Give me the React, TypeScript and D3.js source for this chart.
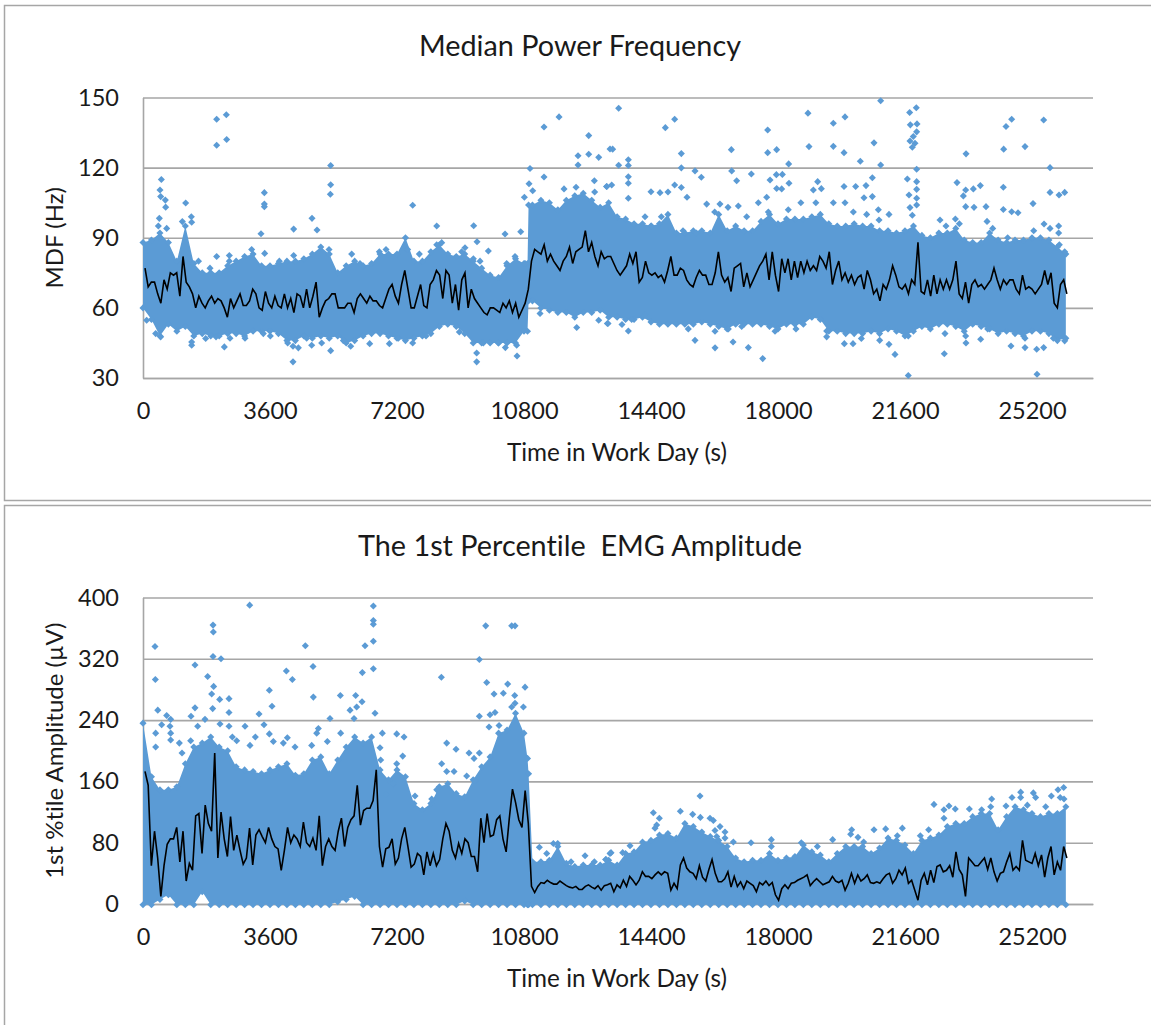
import React from "react";
import * as d3 from "d3";

const xTicks = [0, 3600, 7200, 10800, 14400, 18000, 21600, 25200];
const mdfTicks = [30, 60, 90, 120, 150];
const ampTicks = [0, 80, 160, 240, 320, 400];

// times of the envelope columns below (seconds), the two short ones are the step at ~3h
const bandTimes = [...d3.range(0, 10801, 240), 10900, 10930, ...d3.range(11040, 26161, 240)];

const mdfUpper = [
  88, 89, 92, 88, 80, 95, 79, 75, 75, 75, 78, 80, 82, 83, 78, 78, 79, 80, 80, 81, 83, 86, 83, 75,
  78, 80, 78, 79, 83, 83, 83, 90, 80, 80, 84, 87, 83, 82, 83, 80, 77, 74, 73, 78, 81, 79, 79, 104,
  104, 106, 105, 102, 106, 108, 109, 106, 103, 105,
  99, 98, 96, 96, 95, 96, 100, 92, 92, 93, 93, 92, 100, 93, 95, 93, 93, 97, 100, 96, 98, 98, 98, 99,
  100, 96, 95, 95, 96, 95, 95, 93, 93, 92, 93, 95, 91, 90, 92, 92, 94, 89, 88, 88, 92, 89, 88, 89,
  89, 90, 90, 89, 86, 83,
];
const mdfLower = [
  60, 55, 48, 53, 50, 52, 48, 49, 48, 48, 49, 49, 48, 50, 50, 50, 49, 46, 46, 48, 47, 48, 47, 48,
  45, 46, 48, 49, 49, 48, 47, 46, 47, 48, 49, 52, 53, 52, 49, 45, 45, 45, 45, 45, 45, 50, 50, 63,
  63, 60, 59, 58, 58, 56, 58, 58, 59, 56,
  56, 55, 55, 56, 54, 53, 53, 53, 53, 53, 54, 53, 52, 51, 53, 53, 53, 53, 52, 51, 53, 53, 53, 56,
  55, 50, 50, 49, 49, 49, 50, 49, 51, 50, 48, 50, 52, 51, 53, 53, 52, 50, 53, 52, 51, 49, 50, 49,
  48, 50, 50, 49, 46, 47,
];
const ampUpper = [
  236, 166, 149, 149, 153, 183, 205, 210, 218, 205, 200, 179, 175, 173, 170, 175, 179, 183, 168, 170,
  188, 192, 170, 188, 205, 218, 210, 218, 175, 162, 175, 166, 131, 123, 131, 153, 157, 144, 140, 162,
  179, 192, 223, 227, 249, 223, 190, 170,
  55, 55, 57, 75, 53, 49, 51, 51, 51, 57,
  51, 66, 68, 81, 83, 90, 92, 86, 105, 101, 94, 88, 83, 75, 60, 55, 57, 57, 66, 57, 60, 62, 77, 68,
  64, 55, 66, 75, 75, 75, 66, 73, 86, 83, 77, 66, 83, 86, 90, 101, 105, 105, 114, 118, 118, 97, 114,
  127, 123, 118, 114, 118, 118, 127,
];
const ampLower = [
  -1, -1, 6, 12, -1, -1, -1, 16, -1, -1, -1, -1, -1, -1, -1, -1, -1, -1, -1, -1, -1, -1, -1, 3,
  6, 10, -1, -1, -1, -1, -1, -1, -1, -1, -1, -1, -1, -1, 4, -1, -1, -1, -1, -1, -1, -1, -1, -1,
  -1, -1, -1, -1, -1, -1, -1, -1, -1, -1,
  -1, -1, -1, -1, -1, -1, -1, -1, -1, -1, -1, -1, -1, -1, -1, -1, -1, -1, -1, -1, -1, -1, -1, -1,
  -1, -1, -1, -1, -1, -1, -1, -1, -1, -1, -1, -1, -1, -1, -1, -1, -1, -1, -1, -1, -1, -1, -1, -1,
  -1, -1, -1, -1, -1, -1,
];

// moving average, one reading about every 90 s
const lineStart = 57;
const lineStep = 89.8;
const mdfLine = [
  77, 69, 71, 71, 66, 62, 72, 68, 75, 74, 75, 65, 82, 71, 69, 66, 60, 65, 62, 60,
  63, 65, 62, 64, 63, 60, 56, 64, 60, 63, 66, 61, 61, 63, 68, 66, 60, 59, 67, 62,
  60, 65, 61, 60, 66, 60, 64, 58, 66, 65, 60, 68, 60, 65, 71, 56, 60, 63, 64, 66,
  66, 60, 60, 60, 62, 62, 58, 64, 66, 64, 62, 65, 63, 63, 61, 60, 64, 68, 70, 65,
  62, 70, 76, 68, 60, 60, 65, 70, 61, 60, 70, 72, 76, 74, 64, 76, 74, 62, 70, 59,
  72, 75, 60, 68, 64, 62, 60, 58, 57, 60, 60, 59, 58, 62, 60, 63, 58, 62, 56, 59,
  62, 68, 80, 85, 84, 83, 87, 80, 83, 80, 78, 76, 80, 82, 86, 79, 84, 85, 86, 93,
  84, 88, 82, 78, 84, 81, 82,
  82, 79, 76, 74, 76, 78, 83, 79, 84, 71, 73, 80, 75, 74, 75, 73, 74, 71, 76, 82,
  74, 74, 77, 76, 72, 70, 69, 73, 76, 74, 74, 70, 70, 75, 84, 74, 71, 73, 67, 77,
  78, 79, 69, 75, 69, 72, 75, 78, 80, 83, 72, 84, 74, 67, 81, 75, 81, 72, 80, 73,
  80, 75, 80, 76, 78, 76, 82, 80, 77, 84, 70, 76, 80, 72, 75, 71, 74, 70, 73, 74,
  68, 76, 72, 66, 68, 63, 70, 68, 72, 78, 74, 69, 68, 70, 66, 72, 70, 88, 67, 66,
  72, 65, 74, 66, 72, 68, 72, 68, 72, 80, 66, 64, 71, 62, 70, 72, 69, 70, 68, 70,
  72, 77, 72, 68, 72, 70, 72, 72, 68, 66, 74, 68, 69, 68, 66, 68, 70, 76, 70, 75,
  62, 60, 70, 72, 66,
];
const ampLine = [
  173, 155, 50, 95, 60, 10, 50, 78, 85, 85, 100, 55, 95, 30, 53, 44, 115, 118, 66, 129,
  105, 95, 197, 60, 120, 85, 62, 114, 70, 90, 70, 52, 60, 99, 51, 90, 97, 88, 80, 100,
  85, 75, 72, 44, 70, 100, 80, 90, 85, 75, 107, 80, 75, 86, 70, 115, 50, 75, 85, 75,
  70, 95, 112, 75, 100, 110, 115, 155, 103, 122, 125, 125, 135, 175, 75, 48, 72, 74, 85, 52,
  60, 85, 100, 75, 48, 52, 66, 62, 38, 68, 50, 66, 50, 58, 85, 105, 95, 70, 60, 79,
  66, 85, 80, 62, 62, 42, 112, 80, 118, 88, 90, 110, 115, 85, 68, 112, 150, 132, 110, 100,
  148, 105, 23, 15, 23, 28, 27, 31, 28, 26, 26, 30, 27, 24, 22, 21, 23, 19, 19, 23,
  25, 22, 20, 24, 18, 24, 25,
  27, 16, 25, 21, 31, 23, 36, 31, 25, 31, 42, 36, 36, 33, 38, 42, 38, 42, 40, 18,
  27, 20, 51, 60, 47, 42, 40, 33, 50, 35, 30, 45, 58, 40, 29, 29, 33, 42, 22, 36,
  23, 29, 20, 30, 27, 24, 16, 28, 25, 30, 24, 28, 12, 5, 20, 25, 20, 27, 28, 31,
  33, 35, 38, 24, 29, 33, 29, 25, 27, 29, 36, 30, 28, 31, 18, 27, 40, 27, 38, 30,
  33, 38, 28, 27, 29, 27, 33, 38, 40, 27, 33, 44, 38, 47, 27, 31, 18, 5, 31, 40,
  25, 44, 28, 49, 51, 42, 44, 50, 35, 68, 45, 38, 10, 60, 55, 50, 50, 55, 60, 45,
  60, 42, 30, 40, 42, 55, 66, 44, 49, 44, 83, 57, 55, 53, 66, 50, 64, 35, 60, 75,
  38, 55, 44, 75, 60,
];

// [seconds, value] of the separate points around the dense band
const mdfPoints: [number, number][] = [
  [2088, 140.7], [2362, 142.6], [2088, 129.6], [2372, 132], [520, 114.9], [482, 110.4], [501, 107.6], [633, 106.1],
  [643, 103.1], [463, 98.3], [435, 95], [671, 94], [1210, 104.9], [1370, 99], [1380, 96.6], [1115, 96.9],
  [3440, 109.3], [3440, 104.4], [3440, 103.3], [3345, 91.7], [4791, 98.3], [4271, 93.7], [5320, 120.9], [5320, 112.7],
  [5311, 108.6], [4933, 93.3], [7645, 103.9], [8326, 95], [9374, 95.1], [9469, 88.3], [10263, 91.6], [10707, 92.6],
  [9790, 84.3], [2088, 82], [2447, 82.4], [3449, 83.3], [4271, 82.4], [3080, 85], [8467, 87.9], [9128, 85.7],
  [10971, 119.6], [10943, 113.1], [11047, 110.1], [10811, 107.3], [11368, 137.4], [11794, 141.7], [11368, 116], [11935, 110.9],
  [12276, 111.6], [12635, 133.7], [12635, 125.7], [12918, 124.4], [12332, 125.1], [12332, 121.1], [12795, 114.4], [12804, 109.6],
  [13145, 111.9], [13239, 128], [4252, 36.9], [4252, 43.6], [4404, 42.9], [4782, 44], [5320, 41.7], [9459, 36.9],
  [9459, 40.7], [10603, 39.4], [10272, 43], [2306, 43.3], [1380, 44], [11255, 57.6], [12295, 51.6], [12918, 54.7],
  [13164, 53.3], [104, 54.7], [359, 49], [501, 47.6], [1777, 46.9], [2070, 47.6], [5888, 43.6], [6426, 44.7],
  [6984, 44.7], [7645, 45], [8968, 49.7], [3610, 48],
  [13484, 145.4], [13314, 127.9], [13484, 121], [13758, 123.4], [13758, 120.9], [13758, 116.1], [13758, 113.3], [13758, 106.9],
  [13144, 111.9], [13286, 112.6], [14807, 137.1], [15071, 140.7], [15260, 126], [15260, 119.9], [15648, 118.6], [15827, 115.9],
  [15071, 112.6], [15260, 111.5], [14400, 109.7], [14656, 109.3], [14882, 109.6], [15421, 107.3], [15979, 104.4], [16355, 104.4],
  [16678, 127.7], [16688, 118.6], [16829, 114.4], [17245, 117.3], [17708, 136.1], [17708, 126.4], [17963, 127.7], [18303, 121.6],
  [17954, 117], [18124, 117.1], [17775, 114.7], [18312, 113.3], [17963, 111.1], [18105, 110.9], [17680, 107.3], [18850, 143.3],
  [18879, 129], [19569, 139], [19900, 141.7], [19569, 129.1], [19872, 126.4], [20334, 122.7], [19125, 114], [19003, 110.4],
  [19229, 111], [19872, 111.9], [20202, 111.9], [20495, 112.3], [20675, 115.7], [20722, 130.6], [20911, 148.6], [20911, 121.1],
  [20438, 107.1], [20675, 107.6], [21733, 143.6], [21921, 145.6], [21752, 138.3], [21941, 138.7], [21931, 135.3], [21836, 133.3],
  [21742, 131.4], [21884, 130.4], [21808, 128.7], [21931, 119.3], [21667, 115.1], [21931, 114], [21931, 110.7], [21714, 108.3],
  [21931, 106.9], [21931, 104], [21742, 102.9], [21808, 99.6], [23331, 125.9], [23075, 113.6], [23321, 110.4], [23538, 110.9],
  [23736, 112.3], [23255, 107.9], [23321, 103.3], [23557, 103], [23897, 103.3], [24398, 127.9], [24625, 140.7], [24464, 137.6],
  [25003, 129], [24388, 111.6], [24388, 102.1], [24625, 101.1], [24804, 100.7], [25532, 140.4], [25712, 120], [25712, 109.4],
  [25967, 108.3], [26127, 109.4], [25230, 104.6], [25542, 95.9],
  [13182, 53.3], [13578, 52.9], [13758, 50.1], [15648, 46.1], [16216, 42.9], [16726, 45.4], [17160, 43], [17567, 38.3],
  [19380, 50.1], [19380, 47.6], [19881, 44.7], [20127, 44.7], [20363, 46.9], [20883, 46.1], [21147, 44.4], [21317, 40.1],
  [21694, 31.1], [22715, 40.4], [23329, 45], [23746, 46.6], [24605, 43.7], [25003, 43], [25334, 42.3], [25532, 43],
  [25343, 31.6], [26127, 45.9],
  [1899, 77], [1573, 80], [2447, 80], [3865, 80], [5273, 85], [5916, 83], [6152, 79], [6700, 84],
  [6889, 85], [7503, 85], [7834, 83], [8326, 87], [9033, 84], [9365, 81], [9554, 80], [10310, 79],
  [10546, 82], [10830, 79], [1380, 45.4], [2466, 47], [2892, 47], [3411, 49], [4101, 45], [4640, 47],
  [5065, 45], [5679, 46], [7239, 47], [8023, 48], [9648, 45], [10073, 45], [10593, 44],
  [14231, 99], [14410, 95], [14694, 99], [15308, 93], [15686, 92], [16206, 101], [16584, 103], [16876, 103.6],
  [17113, 99], [17443, 105], [17727, 101], [18292, 102], [18648, 105], [19074, 105], [19569, 105], [19900, 105],
  [20136, 101], [20514, 100], [20845, 102], [21147, 100], [20864, 97.6], [22593, 97.6], [22763, 95], [23029, 98],
  [23142, 96], [23926, 97], [24087, 94], [24511, 90], [25249, 93], [25712, 94], [25957, 95], [25957, 92],
  [25976, 87], [26127, 84], [13853, 55], [14231, 57], [15458, 51], [16215, 50], [16593, 51], [16971, 52],
  [17916, 50], [18510, 51], [21694, 48], [22734, 49], [23321, 48], [23944, 51], [25003, 47], [25806, 47],
];
const ampPoints: [number, number][] = [
  [3024, 390], [6530, 389], [6530, 370], [6530, 365], [6530, 343], [6294, 337], [9715, 363], [10452, 363],
  [10546, 363], [1985, 364], [1994, 355], [340, 336], [350, 293], [4602, 337], [1985, 323], [2211, 320],
  [1474, 312], [9535, 319], [4063, 304], [4820, 310], [4234, 293], [6218, 302], [6530, 307], [8458, 296],
  [9743, 289], [10338, 287], [10830, 283], [1833, 297], [2003, 284], [1947, 274], [2174, 267], [2438, 268],
  [3582, 279], [3657, 258], [4829, 270], [5594, 272], [6029, 272], [6209, 264], [6057, 257], [9951, 274],
  [10215, 275], [10537, 272], [419, 253], [671, 246], [784, 241], [1474, 256], [1361, 245], [1757, 241],
  [1975, 255], [2438, 250], [3289, 248], [5869, 253], [5982, 242], [6577, 249], [9535, 245], [9837, 247],
  [9979, 250], [10452, 257], [10783, 257], [10546, 262], [529, 234], [765, 232], [1550, 232], [2183, 235],
  [2438, 232], [2892, 232], [3430, 234], [5301, 242], [9809, 231], [10093, 233], [784, 223], [784, 214],
  [359, 223], [359, 205], [1030, 210], [1106, 197], [1351, 213], [2533, 218], [2656, 213], [3185, 218],
  [3582, 222], [3695, 212], [3033, 207], [4092, 217], [3978, 210], [4309, 205], [4971, 229], [4924, 223],
  [4782, 207], [5226, 212], [5603, 223], [6785, 223], [7192, 222], [7400, 218], [6719, 204], [8609, 210],
  [8874, 202], [9242, 197], [9384, 190], [9535, 197], [8467, 183], [8609, 173], [8817, 173], [9176, 167],
  [9412, 161], [8184, 137], [8326, 149], [7711, 141], [7362, 193], [7192, 183], [6738, 188], [6889, 143],
  [7097, 157], [11236, 74], [11444, 66], [11633, 79], [11756, 79], [12134, 55], [12531, 63], [12795, 55],
  [13116, 58], [13239, 66],
  [13267, 67], [13125, 58], [13598, 67], [13806, 76], [14467, 119], [14637, 112], [14561, 103], [14514, 99],
  [15232, 121], [15582, 117], [15790, 141], [15800, 113], [16073, 112], [16168, 109], [16357, 101], [16498, 94],
  [16215, 96], [16263, 88], [16498, 86], [16735, 81], [17236, 80], [17812, 84], [17812, 75], [18662, 80],
  [19116, 75], [19550, 84], [20089, 97], [20060, 91], [20268, 87], [20429, 81], [20722, 97], [21053, 98],
  [21525, 99], [21383, 89], [22035, 89], [22271, 97], [22422, 130], [22705, 123], [22847, 128], [23026, 124],
  [22705, 112], [23425, 124], [23774, 123], [24058, 137], [24030, 127], [24464, 128], [24634, 139], [24880, 146],
  [24880, 139], [25239, 145], [25305, 139], [25749, 141], [25938, 149], [26099, 152], [26000, 139], [26108, 137],
  [25069, 129], [25589, 127],
];

const BLUE = "#5b9bd5";
const GRID = "#a6a6a6";
const FONT = "Lato, 'Open Sans', sans-serif";

type PanelProps = {
  top: number;
  bottom: number;
  title: string;
  yLabel: string;
  yTicks: number[];
  upper: number[];
  lower: number[];
  line: number[];
  points: [number, number][];
};

const xScale = d3.scaleLinear().domain([0, 26930]).range([143, 1093]);

const Panel = ({ top, bottom, title, yLabel, yTicks, upper, lower, line, points }: PanelProps) => {
  const ref = React.useRef<SVGGElement>(null);

  React.useEffect(() => {
    const g = d3.select(ref.current);
    g.selectAll("*").remove();

    const y = d3.scaleLinear().domain(d3.extent(yTicks) as [number, number]).range([bottom, top]);

    const yAxis = d3.axisLeft(y).tickValues(yTicks).tickSize(-(1093 - 143)).tickSizeOuter(0).tickPadding(24);
    const ya = g.append("g").attr("transform", "translate(143,0)").call(yAxis as any);
    ya.selectAll("line").attr("stroke", GRID).attr("stroke-width", 1.6);
    ya.select(".domain").attr("stroke", GRID).attr("stroke-width", 1.6);

    const xAxis = d3.axisBottom(xScale).tickValues(xTicks).tickFormat(d3.format("d") as any).tickSize(0).tickPadding(24);
    const xa = g.append("g").attr("transform", `translate(0,${bottom})`).call(xAxis as any);
    xa.select(".domain").attr("stroke", GRID).attr("stroke-width", 1.6);

    g.selectAll(".tick text").attr("font-family", FONT).attr("font-size", 23.5).attr("fill", "#1a1a1a");

    const band = d3.area<number>()
      .x(d => xScale(d))
      .y0((_, i) => y(lower[i]))
      .y1((_, i) => y(upper[i]));
    g.append("path").attr("d", band(bandTimes)).attr("fill", BLUE);

    const diamond = d3.symbol().type(d3.symbolDiamond2).size(32)();

    // same diamonds along both envelope edges so the band keeps the scatter's rough outline
    const edge = bandTimes.flatMap((t, i) => [[t, upper[i]], [t, lower[i]]]);
    g.append("g").selectAll("path").data(edge).join("path")
      .attr("d", diamond)
      .attr("transform", d => `translate(${xScale(d[0])},${y(d[1])})`)
      .attr("fill", BLUE);

    g.append("g").selectAll("path").data(points).join("path")
      .attr("d", diamond)
      .attr("transform", d => `translate(${xScale(d[0])},${y(d[1])})`)
      .attr("fill", BLUE);

    const avg = d3.line<number>()
      .x((_, i) => xScale(lineStart + i * lineStep))
      .y(d => y(d));
    g.append("path").attr("d", avg(line)).attr("fill", "none").attr("stroke", "#000").attr("stroke-width", 1.6);
  }, []);

  return (
    <g style={{ fontVariantLigatures: "none" }}>
      <g ref={ref} />
      <text x={580} y={top - 42} textAnchor="middle" fontFamily={FONT} fontSize={28.8} fill="#1a1a1a" style={{ whiteSpace: "pre" }}>
        {title}
      </text>
      <text x={617} y={bottom + 83} textAnchor="middle" fontFamily={FONT} fontSize={24.3} fill="#1a1a1a">
        Time in Work Day (s)
      </text>
      <text
        transform={`translate(63,${(top + bottom) / 2}) rotate(-90)`}
        textAnchor="middle"
        fontFamily={FONT}
        fontSize={24}
        fill="#1a1a1a"
      >
        {yLabel}
      </text>
    </g>
  );
};

export default function App() {
  return (
    <svg width={1151} height={1025} style={{ position: "absolute", left: 0, top: 0, background: "#fff" }}>
      <path d="M1151,5.5H4.5V500.5H1151" fill="none" stroke={GRID} strokeWidth={1.5} />
      <path d="M1151,505.5H4.5V1025" fill="none" stroke={GRID} strokeWidth={1.5} />
      <Panel top={97.5} bottom={378} title="Median Power Frequency" yLabel="MDF (Hz)" yTicks={mdfTicks}
        upper={mdfUpper} lower={mdfLower} line={mdfLine} points={mdfPoints} />
      <Panel top={597.5} bottom={904} title="The 1st Percentile  EMG Amplitude" yLabel="1st %tile Amplitude (µV)" yTicks={ampTicks}
        upper={ampUpper} lower={ampLower} line={ampLine} points={ampPoints} />
    </svg>
  );
}
